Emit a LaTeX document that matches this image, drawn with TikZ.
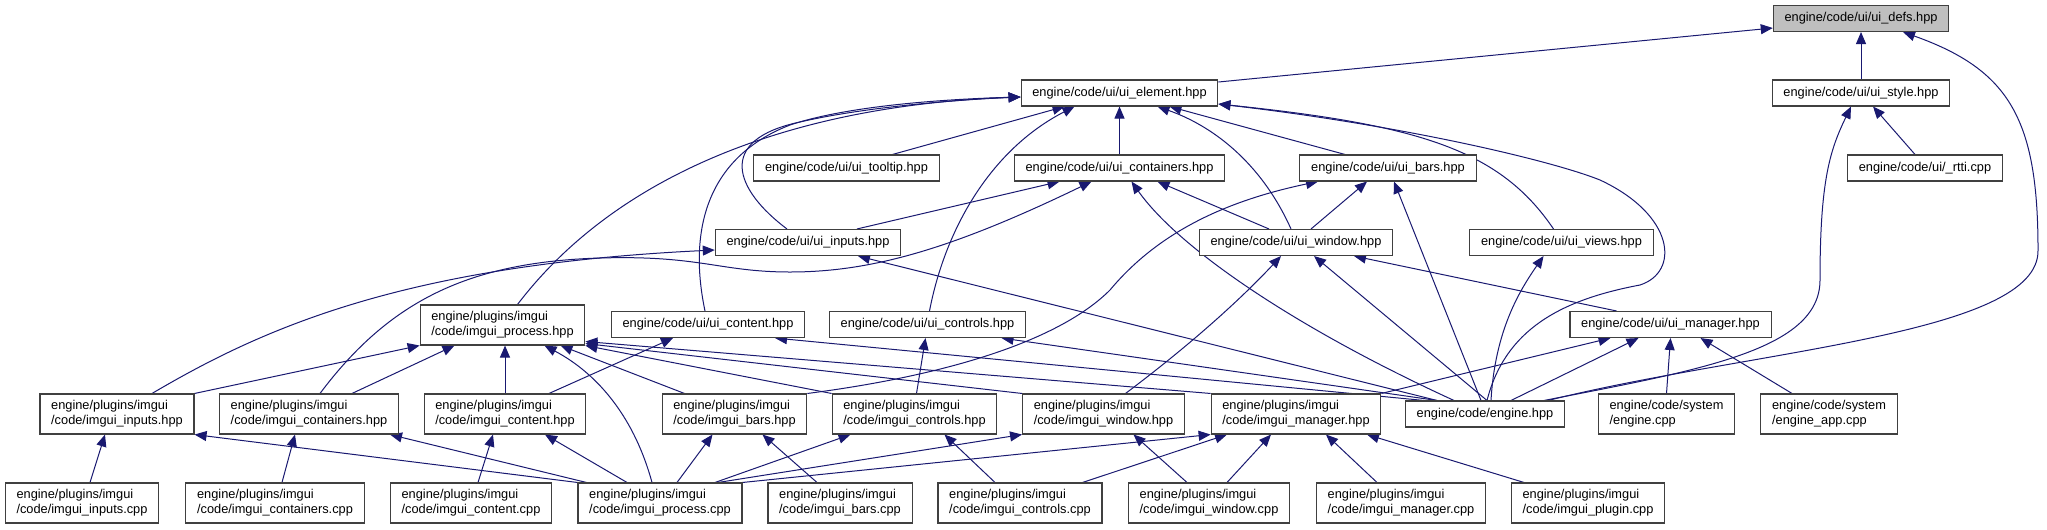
\documentclass[tikz,border=0pt]{standalone}
\usepackage{fontspec}
\setmainfont{Liberation Sans}
\usetikzlibrary{arrows.meta,calc,backgrounds}
\definecolor{navyline}{HTML}{191970}
\definecolor{boxline}{HTML}{404040}
\definecolor{rootfill}{HTML}{BFBFBF}
\begin{document}
\begin{tikzpicture}[x=0.75pt,y=-0.75pt,
  file/.style={draw=boxline,line width=0.8pt,fill=white,inner xsep=8.4pt,inner ysep=0pt,minimum height=19.5pt,font=\fontsize{9.6pt}{11pt}\selectfont},
  file2/.style={file,align=left,minimum height=30pt},
  incl/.style={draw=navyline,line width=0.75pt,-{Triangle[length=9pt,width=7.5pt]}}]
\useasboundingbox (0,0) rectangle (2047,529);
\node[file,fill=rootfill] (defs) at (1861,18.5) {engine/code/ui/ui\_defs.hpp};
\node[file] (style) at (1861,93) {engine/code/ui/ui\_style.hpp};
\node[file] (rtti) at (1925,168) {engine/code/ui/\_rtti.cpp};
\node[file] (element) at (1119.5,93) {engine/code/ui/ui\_element.hpp};
\node[file] (tooltip) at (846.5,168) {engine/code/ui/ui\_tooltip.hpp};
\node[file] (containers) at (1119.5,168) {engine/code/ui/ui\_containers.hpp};
\node[file] (bars) at (1388,168) {engine/code/ui/ui\_bars.hpp};
\node[file] (inputs) at (808,242.5) {engine/code/ui/ui\_inputs.hpp};
\node[file] (window) at (1296,242.5) {engine/code/ui/ui\_window.hpp};
\node[file] (views) at (1561.5,242.5) {engine/code/ui/ui\_views.hpp};
\node[file2] (process) at (502.5,325) {engine/plugins/imgui\\/code/imgui\_process.hpp};
\node[file] (content) at (708,324.5) {engine/code/ui/ui\_content.hpp};
\node[file] (controls) at (927.5,324.5) {engine/code/ui/ui\_controls.hpp};
\node[file] (manager) at (1670.5,324.5) {engine/code/ui/ui\_manager.hpp};
\node[file] (enginehpp) at (1485,414) {engine/code/engine.hpp};
\node[file2] (sysengine) at (1666.5,414) {engine/code/system\\/engine.cpp};
\node[file2] (engineapp) at (1829,414) {engine/code/system\\/engine\_app.cpp};
\node[file2] (pinputs) at (117,414) {engine/plugins/imgui\\/code/imgui\_inputs.hpp};
\node[file2] (pcontainers) at (309,414) {engine/plugins/imgui\\/code/imgui\_containers.hpp};
\node[file2] (pcontent) at (505,414) {engine/plugins/imgui\\/code/imgui\_content.hpp};
\node[file2] (pbars) at (734.5,414) {engine/plugins/imgui\\/code/imgui\_bars.hpp};
\node[file2] (pcontrols) at (914.5,414) {engine/plugins/imgui\\/code/imgui\_controls.hpp};
\node[file2] (pwindow) at (1103.5,414) {engine/plugins/imgui\\/code/imgui\_window.hpp};
\node[file2] (pmanager) at (1296,414) {engine/plugins/imgui\\/code/imgui\_manager.hpp};
\node[file2] (cinputs) at (82,503) {engine/plugins/imgui\\/code/imgui\_inputs.cpp};
\node[file2] (ccontainers) at (275,503) {engine/plugins/imgui\\/code/imgui\_containers.cpp};
\node[file2] (ccontent) at (471,503) {engine/plugins/imgui\\/code/imgui\_content.cpp};
\node[file2] (cprocess) at (660,503) {engine/plugins/imgui\\/code/imgui\_process.cpp};
\node[file2] (cbars) at (840,503) {engine/plugins/imgui\\/code/imgui\_bars.cpp};
\node[file2] (ccontrols) at (1020,503) {engine/plugins/imgui\\/code/imgui\_controls.cpp};
\node[file2] (cwindow) at (1209,503) {engine/plugins/imgui\\/code/imgui\_window.cpp};
\node[file2] (cmanager) at (1401,503) {engine/plugins/imgui\\/code/imgui\_manager.cpp};
\node[file2] (cplugin) at (1588,503) {engine/plugins/imgui\\/code/imgui\_plugin.cpp};
\begin{pgfonlayer}{background}
\draw[incl] ($(element.east)+(0,-11)$) -- ($(defs.west)+(0,9.5)$);
\draw[incl] (style) -- (defs);
\draw[incl] ($(enginehpp.north)+(63,0)$) .. controls (1750,350) and (2040,335) .. (2038,250) .. controls (2038,120) and (2010,70) .. ($(defs.south)+(42,0)$);
\draw[incl] ($(enginehpp.north)+(59,0)$) .. controls (1700,370) and (1820,350) .. (1820,280) .. controls (1820,180) and (1830,150) .. ($(style.south)+(-10,0)$);
\draw[incl] ($(rtti.north)+(-10,0)$) -- ($(style.south)+(12,0)$);
\draw[incl] ($(tooltip.north)+(46,0)$) -- ($(element.south)+(-55,0)$);
\draw[incl] ($(controls.north)+(2,0)$) .. controls (945,230) and (990,150) .. ($(element.south)+(-45,0)$);
\draw[incl] (containers) -- (element);
\draw[incl] ($(window.north)+(-5,0)$) .. controls (1260,160) and (1210,125) .. ($(element.south)+(38,0)$);
\draw[incl] ($(bars.north)+(-43,0)$) -- ($(element.south)+(50,0)$);
\draw[incl] ($(views.north)+(-8,0)$) .. controls (1500,150) and (1420,125) .. ($(element.east)+(0,11)$);
\draw[incl] ($(enginehpp.north)+(2,0)$) .. controls (1505,330) and (1560,300) .. (1640,285) .. controls (1680,272) and (1675,215) .. (1600,180) .. controls (1550,160) and (1400,125) .. ($(element.east)+(0,11)$);
\draw[incl] ($(inputs.north)+(-21,0)$) .. controls (735,190) and (715,140) .. (800,122) .. controls (860,108) and (950,100) .. ($(element.west)+(0,4)$);
\draw[incl] ($(content.north)+(-3,0)$) .. controls (690,240) and (700,160) .. (790,125) .. controls (850,105) and (950,99) .. ($(element.west)+(0,4)$);
\draw[incl] ($(process.north)+(15,0)$) .. controls (620,170) and (800,105) .. ($(element.west)+(0,4)$);
\draw[incl] ($(inputs.north)+(49,0)$) -- ($(containers.south)+(-60,0)$);
\draw[incl] ($(window.north)+(-27,0)$) -- ($(containers.south)+(38,0)$);
\draw[incl] ($(window.north)+(15,0)$) -- ($(bars.south)+(-21,0)$);
\draw[incl] ($(pcontainers.north)+(11,0)$) .. controls (390,300) and (470,262) .. (600,258) .. controls (700,255) and (720,272) .. (790,272) .. controls (870,272) and (950,250) .. ($(containers.south)+(-28,0)$);
\draw[incl] ($(pinputs.north)+(35,0)$) .. controls (260,330) and (400,265) .. ($(inputs.west)+(0,7.5)$);
\draw[incl] ($(enginehpp.north)+(-48,0)$) -- ($(inputs.south)+(50,0)$);
\draw[incl] ($(enginehpp.north)+(-31,0)$) .. controls (1300,330) and (1180,250) .. ($(containers.south)+(12,0)$);
\draw[incl] ($(enginehpp.north)+(2,0)$) -- ($(window.south)+(18,0)$);
\draw[incl] ($(enginehpp.north)+(-4,0)$) -- ($(bars.south)+(6,0)$);
\draw[incl] ($(enginehpp.north)+(6,0)$) .. controls (1495,330) and (1520,290) .. ($(views.south)+(-18,0)$);
\draw[incl] ($(enginehpp.north)+(26,0)$) -- ($(manager.south)+(-32,0)$);
\draw[incl] ($(enginehpp.north)+(-61,0)$) -- ($(content.south)+(67,0)$);
\draw[incl] ($(enginehpp.north)+(-48,0)$) -- ($(controls.south)+(74,0)$);
\draw[incl] ($(manager.north)+(-54,0)$) -- ($(window.south)+(58,0)$);
\draw[incl] (pmanager.north east) -- ($(manager.south)+(-60,0)$);
\draw[incl] (sysengine.north) -- (manager.south);
\draw[incl] ($(engineapp.north)+(-37,0)$) -- ($(manager.south)+(30,0)$);
\draw[incl] (pbars.north east) .. controls (950,375) and (1060,340) .. (1110,290) .. controls (1160,230) and (1230,200) .. ($(bars.south)+(-70,0)$);
\draw[incl] ($(pwindow.north)+(22,0)$) .. controls (1190,345) and (1240,300) .. ($(window.south)+(-15,0)$);
\draw[incl] (pinputs.north east) -- (process.south west);
\draw[incl] ($(pcontainers.north)+(43,0)$) -- ($(process.south)+(-48,0)$);
\draw[incl] (pcontent.north) -- (pcontent.north |- process.south);
\draw[incl] ($(cprocess.north)+(-8,0)$) .. controls (635,420) and (600,375) .. ($(process.south)+(42,0)$);
\draw[incl] ($(pbars.north)+(-50,0)$) -- ($(process.south)+(58,0)$);
\draw[incl] (pcontrols.north west) -- (process.south east);
\draw[incl] (pwindow.north west) -- ($(process.south east)+(0,-2)$);
\draw[incl] (pmanager.north west) -- ($(process.south east)+(0,-4)$);
\draw[incl] ($(pcontent.north)+(44,0)$) -- ($(content.south)+(-35,0)$);
\draw[incl] ($(pcontrols.north)+(2,0)$) -- ($(controls.south)+(-2,0)$);
\draw[incl] ($(cinputs.north)+(8,0)$) -- ($(pinputs.south)+(-12,0)$);
\draw[incl] (cprocess.north west) -- (pinputs.south east);
\draw[incl] ($(ccontainers.north)+(7,0)$) -- ($(pcontainers.south)+(-14,0)$);
\draw[incl] ($(cprocess.north west)+(9,0)$) -- ($(pcontainers.south east)+(-9,0)$);
\draw[incl] ($(ccontent.north)+(7,0)$) -- ($(pcontent.south)+(-12,0)$);
\draw[incl] ($(cprocess.north)+(-33,0)$) -- ($(pcontent.south)+(40,0)$);
\draw[incl] ($(cprocess.north)+(17,0)$) -- ($(pbars.south)+(-22,0)$);
\draw[incl] ($(cbars.north)+(-23,0)$) -- ($(pbars.south)+(28,0)$);
\draw[incl] ($(cprocess.north)+(55,0)$) -- ($(pcontrols.south)+(-64,0)$);
\draw[incl] ($(ccontrols.north)+(-25,0)$) -- ($(pcontrols.south)+(30,0)$);
\draw[incl] ($(cprocess.north)+(58,0)$) -- (pwindow.south west);
\draw[incl] (cprocess.north east) -- (pmanager.south west);
\draw[incl] ($(cwindow.north)+(-22,0)$) -- ($(pwindow.south)+(30,0)$);
\draw[incl] ($(ccontrols.north east)+(-20,0)$) -- ($(pmanager.south)+(-69,0)$);
\draw[incl] ($(cwindow.north)+(18,0)$) -- ($(pmanager.south)+(-25,0)$);
\draw[incl] ($(cmanager.north)+(-24,0)$) -- ($(pmanager.south)+(30,0)$);
\draw[incl] ($(cplugin.north)+(-64,0)$) -- ($(pmanager.south)+(71,0)$);
\end{pgfonlayer}
\end{tikzpicture}
\end{document}
